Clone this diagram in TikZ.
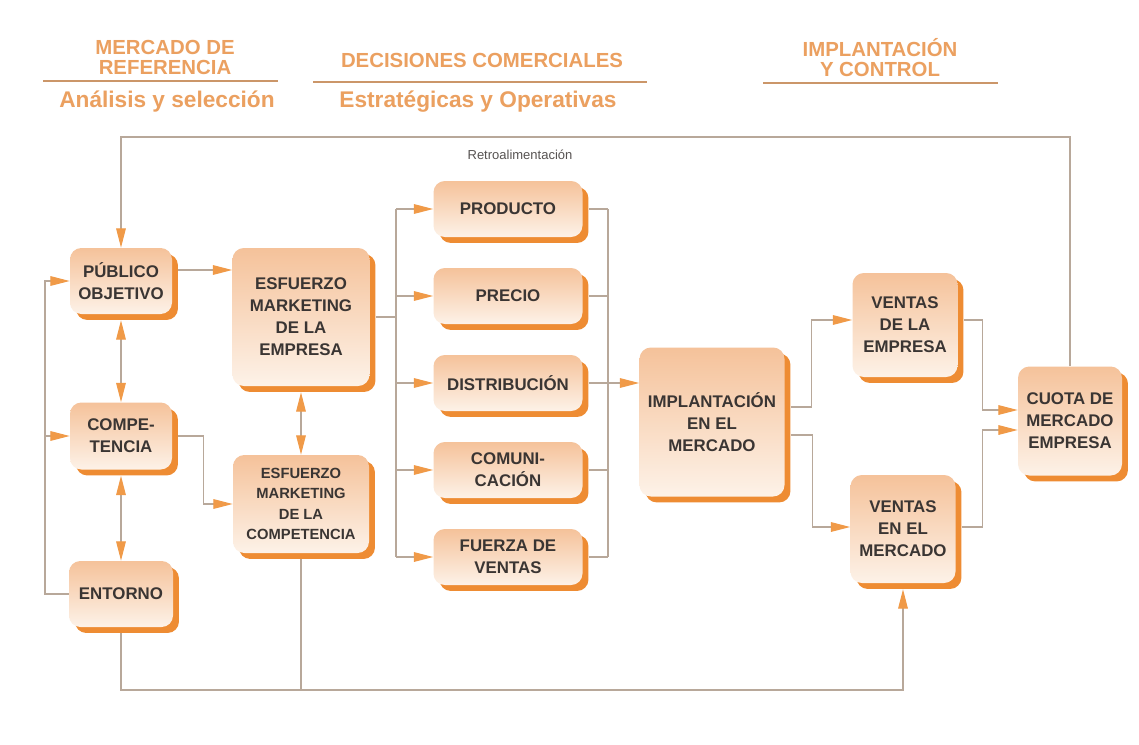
\documentclass[tikz,border=0pt]{standalone}
\usepackage{fontspec}
\setmainfont{Liberation Sans}
\usetikzlibrary{arrows.meta,shadows,backgrounds,calc}
\definecolor{hdr}{HTML}{EBA060}
\definecolor{peachA}{HTML}{F5C29A}
\definecolor{peachB}{HTML}{FDF2E8}
\definecolor{shad}{HTML}{EE8C33}
\definecolor{lin}{HTML}{B8A89A}
\definecolor{tip}{HTML}{F09A48}
\definecolor{txt}{HTML}{3A3533}
\tikzset{
 box/.style={rounded corners=6.5pt, top color=peachA, bottom color=peachB, draw=none, align=center,
   font=\bfseries\fontsize{9.6}{12.5}\selectfont, text=txt, inner sep=0pt,
   drop shadow={shadow xshift=3.4pt, shadow yshift=-3.4pt, fill=shad, opacity=1}},
 sz/.style 2 args={minimum width=#1*0.02cm, minimum height=#2*0.02cm},
 conn/.style={draw=lin, line width=0.6pt},
 arr/.style={-{Triangle[length=11pt,width=5.5pt,color=tip]}},
 darr/.style={{Triangle[length=11pt,width=5.5pt,color=tip]}-{Triangle[length=11pt,width=5.5pt,color=tip]}},
 hdrtxt/.style={text=hdr, font=\bfseries\fontsize{11.6}{11.4}\selectfont, align=center},
 subtxt/.style={text=hdr, font=\bfseries\fontsize{12.9}{15}\selectfont},
 hline/.style={draw=hdr!70!gray, line width=1.3pt}
}
\begin{document}
\begin{tikzpicture}[x=0.02cm,y=-0.02cm]
\useasboundingbox (0,0) rectangle (1139,744);

% headers
\node[hdrtxt] (h1) at (165,57) {MERCADO DE\\REFERENCIA};
\node[subtxt] (s1) at (167,102) {Análisis y selección};
\draw[hline] (43,81) -- (278,81);
\node[hdrtxt] (h2) at (482,60) {DECISIONES COMERCIALES};
\node[subtxt] (s2) at (478,102) {Estratégicas y Operativas};
\draw[hline] (313,82) -- (647,82);
\node[hdrtxt] (h3) at (880,58) {IMPLANTACIÓN\\Y CONTROL};
\draw[hline] (763,83) -- (998,83);

% boxes
\node[box, sz={102}{66}] (pub) at (121,281) {PÚBLICO\\OBJETIVO};
\node[box, sz={102}{67}] (comp) at (121,436) {COMPE-\\TENCIA};
\node[box, sz={104}{66}] (ent) at (121,594) {ENTORNO};
\node[box, sz={137}{138}] (esfE) at (301,317) {ESFUERZO\\MARKETING\\DE LA\\EMPRESA};
\node[box, sz={136}{98}, font=\bfseries\fontsize{8.4}{11.5}\selectfont] (esfC) at (301,504) {ESFUERZO\\MARKETING\\DE LA\\COMPETENCIA};
\node[box, sz={149}{56}] (prod) at (508,209) {PRODUCTO};
\node[box, sz={149}{56}] (prec) at (508,296) {PRECIO};
\node[box, sz={149}{56}] (dist) at (508,383) {DISTRIBUCIÓN};
\node[box, sz={149}{56}] (comu) at (508,470) {COMUNI-\\CACIÓN};
\node[box, sz={149}{56}] (fuer) at (508,557) {FUERZA DE\\VENTAS};
\node[box, sz={145}{149}] (impl) at (712,422) {IMPLANTACIÓN\\EN EL\\MERCADO};
\node[box, sz={105}{104}] (ventE) at (905,325) {VENTAS\\DE LA\\EMPRESA};
\node[box, sz={105}{108}] (ventM) at (903,529) {VENTAS\\EN EL\\MERCADO};
\node[box, sz={104}{109}] (cuota) at (1070,421) {CUOTA DE\\MERCADO\\EMPRESA};

\node[font=\fontsize{7.4}{9}\selectfont, text=txt!85] (retro) at (520,155) {Retroalimentación};

\begin{scope}[on background layer]
\fill[white] (0,0) rectangle (1139,744);
% left bus
\coordinate (lbus) at (45,281);
\draw[conn,arr] (ent.west) -| (lbus) -- (pub.west);
\draw[conn,arr] (comp.west -| lbus) -- (comp.west);
% double arrows
\draw[conn,darr] ([yshift=-3.4pt]pub.south) -- (comp.north);
\draw[conn,darr] ([yshift=-3.4pt]comp.south) -- (ent.north);
\draw[conn,darr] ([yshift=-3.4pt]esfE.south) -- (esfC.north);
% to esfuerzos
\coordinate (p1) at ($(pub.east)+(6,-11)$);
\draw[conn,arr] (p1) -- (p1 -| esfE.west);
\draw[conn,arr] ([xshift=3.4pt]comp.east) -- ++(25,0) |- (esfC.west);
% mix buses
\coordinate (b1) at (396,209);
\coordinate (b2) at (396,557);
\draw[conn] (b1) -- (b2);
\draw[conn] ([xshift=3.4pt]esfE.east) -- (esfE.east -| b1);
\foreach \X in {prod,prec,dist,comu,fuer}{
  \draw[conn,arr] (\X.west -| b1) -- (\X.west);
}
\coordinate (r1) at (608,209);
\coordinate (r2) at (608,557);
\draw[conn] (r1) -- (r2);
\foreach \X in {prod,prec,dist,comu,fuer}{
  \draw[conn] ([xshift=3.4pt]\X.east) -- (\X.east -| r1);
}
\draw[conn,arr] (dist.east -| r1) -- (dist.east -| impl.west);
% implantacion to ventas
\coordinate (i1) at ($(impl.east)+(6,-15)$);
\coordinate (i2) at ($(impl.east)+(6,13)$);
\draw[conn,arr] (i1) -| ($(ventE.west)+(-41,-5)$) -- ($(ventE.west)+(0,-5)$);
\draw[conn,arr] (i2) -| ($(ventM.west)+(-38,-2)$) -- ($(ventM.west)+(0,-2)$);
% ventas to cuota
\draw[conn,arr] ($(ventE.east)+(6,-5)$) -| ($(cuota.west)+(-35,-11)$) -- ($(cuota.west)+(0,-11)$);
\draw[conn,arr] ($(ventM.east)+(6,-2)$) -| ($(cuota.west)+(-35,9)$) -- ($(cuota.west)+(0,9)$);
% feedback
\coordinate (fb) at (121,137);
\draw[conn,arr] (cuota.north) |- (fb) -- (pub.north);
% bottom
\coordinate (bot) at (0,690);
\draw[conn,arr] ([yshift=-3.4pt]ent.south) -- (ent.south |- bot) -| ([yshift=-3.4pt]ventM.south);
\draw[conn] ([yshift=-3.4pt]esfC.south) -- (esfC.south |- bot);
\end{scope}
\end{tikzpicture}
\end{document}
